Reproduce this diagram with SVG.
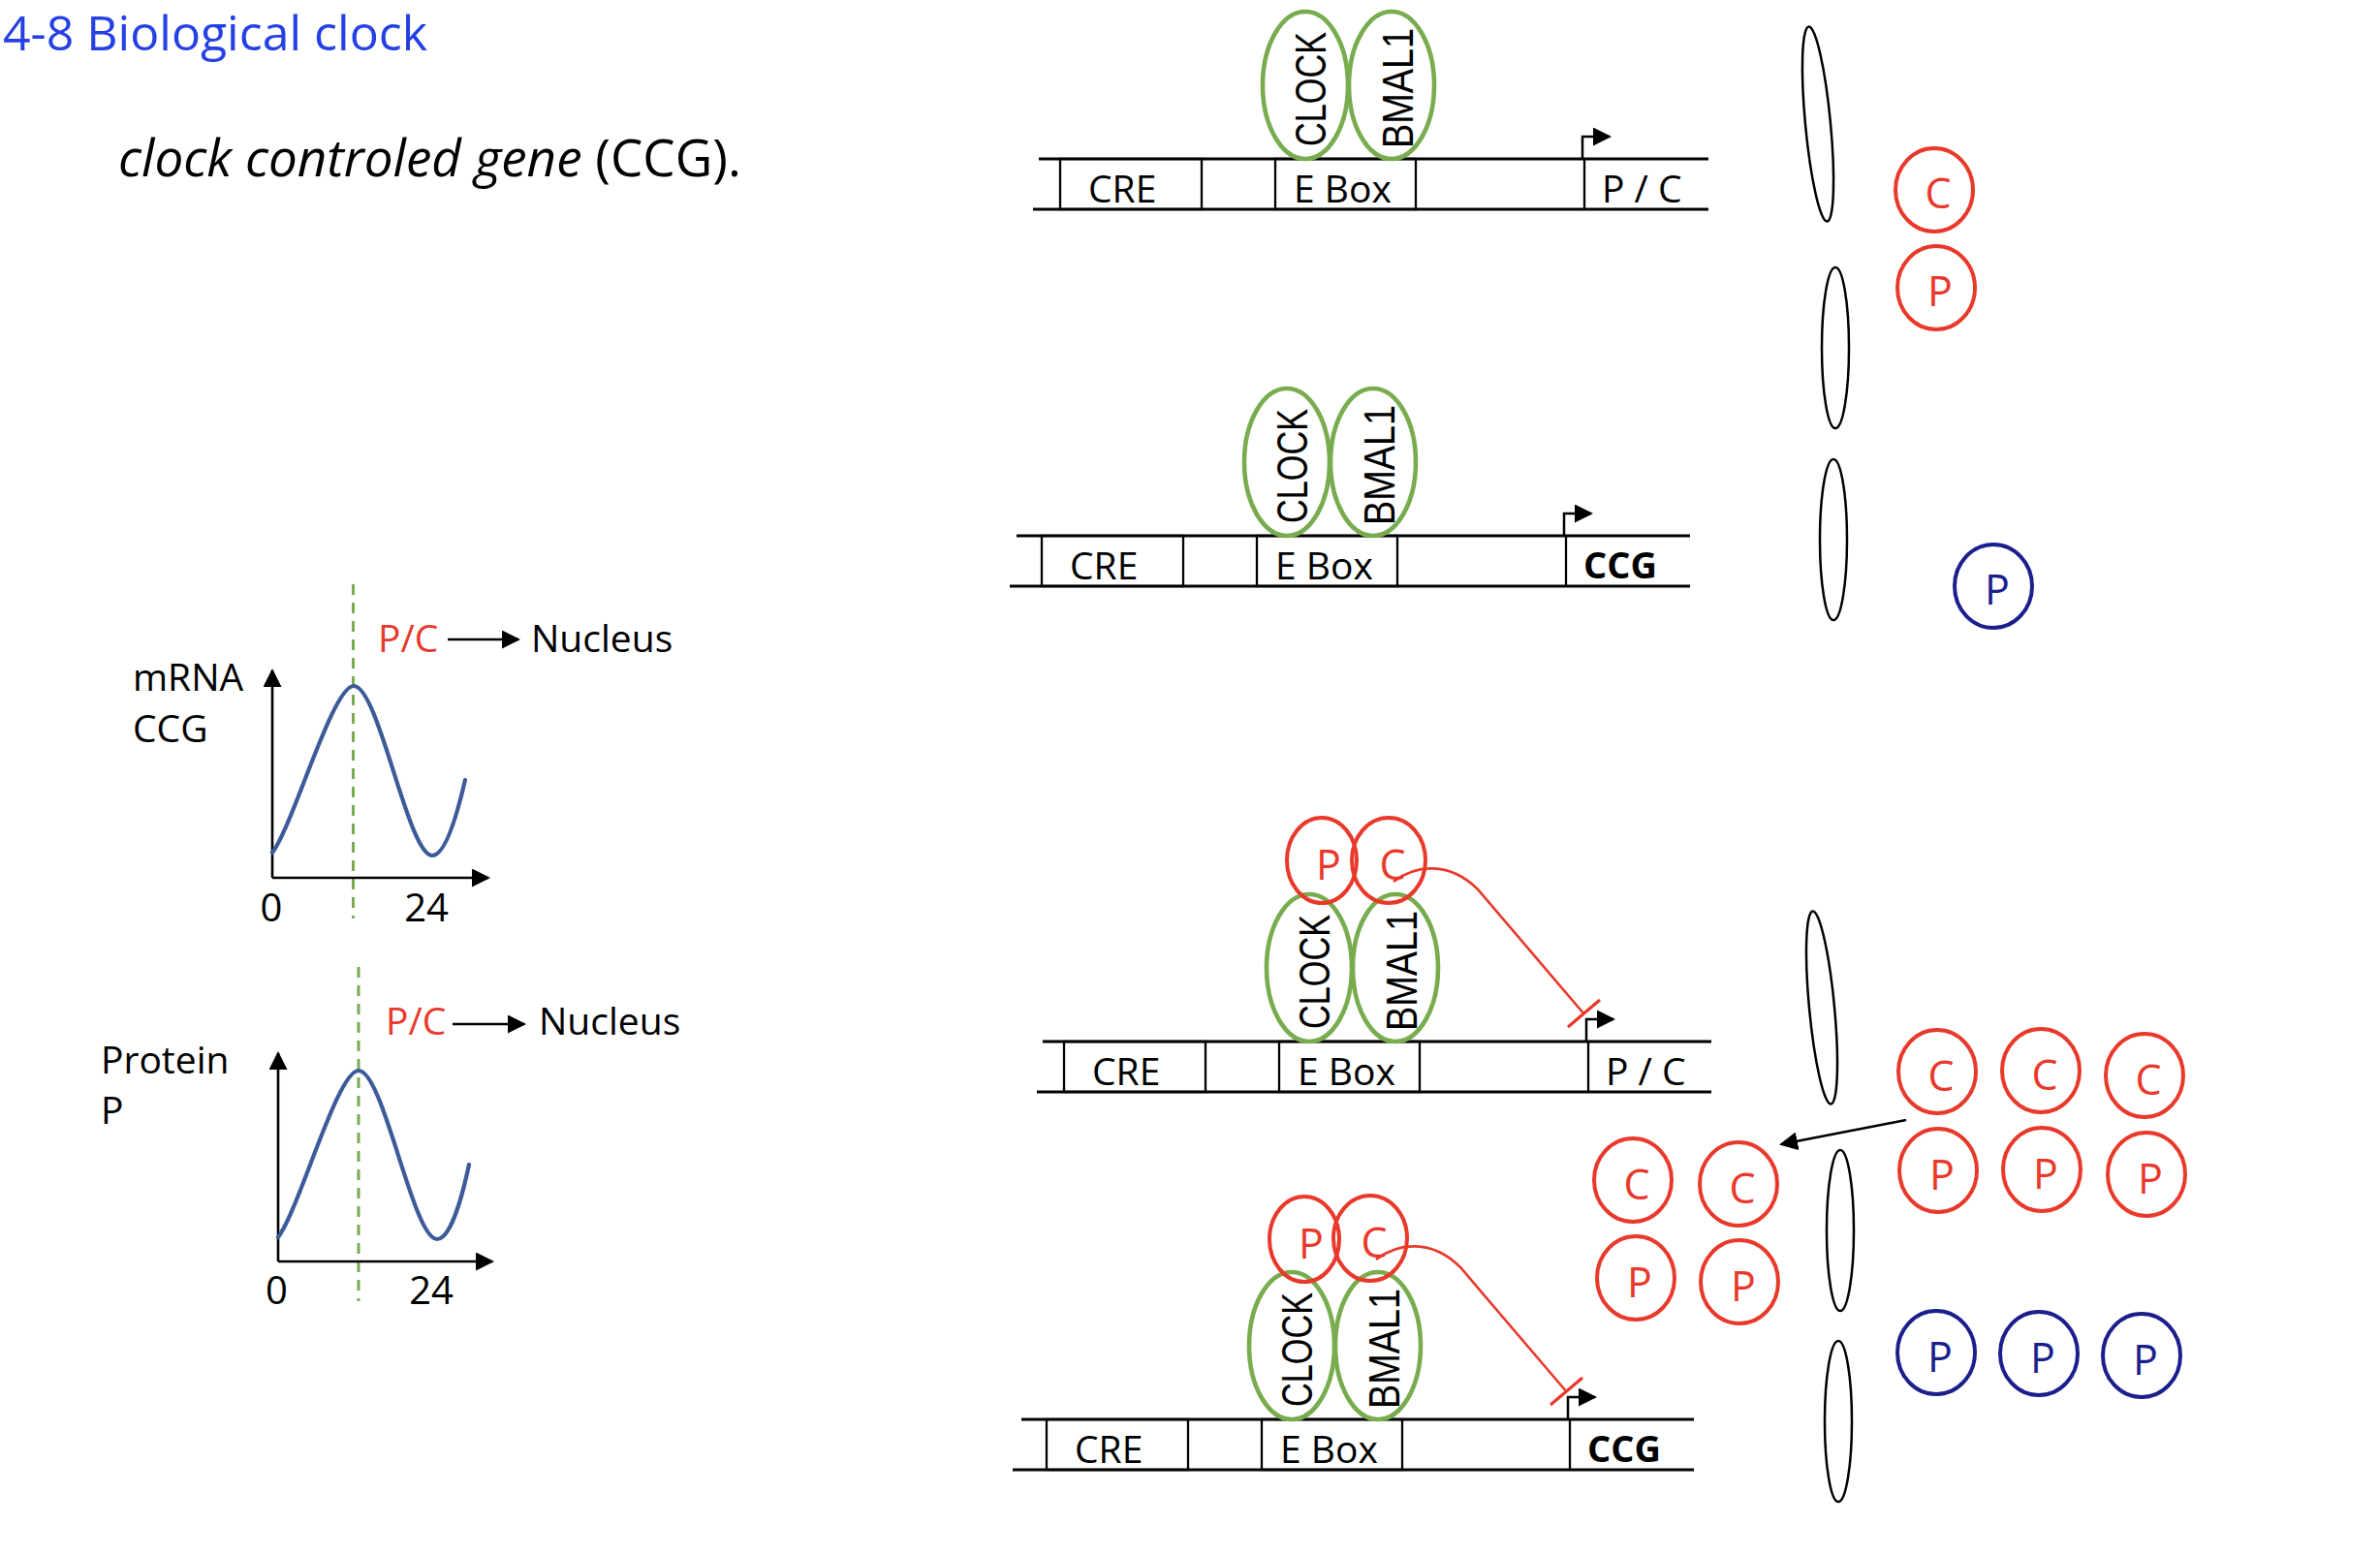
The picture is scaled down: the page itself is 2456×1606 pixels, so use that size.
<svg xmlns="http://www.w3.org/2000/svg" width="2456" height="1606" viewBox="0 0 2456 1606">
<defs>
<style>
.title{font-family:"Open Sans","Liberation Sans",sans-serif;font-size:50px;fill:#2541E3;}
.sub{font-family:"Open Sans","Liberation Sans",sans-serif;font-size:53px;fill:#000;}
.lbl{font-family:"Open Sans","Liberation Sans",sans-serif;font-size:39px;fill:#000;}
.lblr{font-family:"Open Sans","Liberation Sans",sans-serif;font-size:39px;fill:#E8392B;}
.num{font-family:"Open Sans","Liberation Sans",sans-serif;font-size:40px;fill:#000;text-anchor:middle;}
.ax{stroke:#000;stroke-width:2.6;fill:none;}
.dash{stroke:#78AC4F;stroke-width:3;stroke-dasharray:11 8;fill:none;}
.wave{stroke:#3D5A99;stroke-width:4.2;fill:none;stroke-linecap:round;}
.dna{stroke:#000;stroke-width:2.8;fill:none;}
.box{stroke:#000;stroke-width:2.3;fill:none;}
.gt{font-family:"Open Sans","Liberation Sans",sans-serif;font-size:39px;fill:#000;}
.gtb{font-family:"Open Sans","Liberation Sans",sans-serif;font-size:38px;font-weight:bold;fill:#000;}
.prom{stroke:#000;stroke-width:2.5;fill:none;}
.tf{stroke:#78AC4F;stroke-width:4.6;fill:none;}
.tft{font-family:"Liberation Sans",Arial,sans-serif;font-size:45px;fill:#000;}
.rc{stroke:#E8392B;stroke-width:4;fill:none;}
.bc{stroke:#1B1F8C;stroke-width:4;fill:none;}
.rt{font-family:"Open Sans","Liberation Sans",sans-serif;font-size:43px;fill:#E8392B;text-anchor:middle;}
.bt{font-family:"Open Sans","Liberation Sans",sans-serif;font-size:43px;fill:#1B1F8C;text-anchor:middle;}
.mem{stroke:#000;stroke-width:2.5;fill:none;}
.rep{stroke:#E8392B;stroke-width:2.6;fill:none;}
.bar{stroke:#E8392B;stroke-width:3.2;fill:none;}
</style>
<marker id="ah" viewBox="0 0 19 19" refX="17" refY="9.5" markerWidth="19" markerHeight="19" markerUnits="userSpaceOnUse" orient="auto">
<path d="M0,0 L19,9.5 L0,19 Z" fill="#000"/>
</marker>
</defs>

<rect x="0" y="0" width="2456" height="1606" fill="#fff"/>

<g id="title">
<text class="title" x="3" y="52">4-8 Biological clock</text>
</g>
<g id="subtitle">
<text class="sub" x="122" y="182"><tspan font-style="italic">clock controled gene</tspan> (CCG).</text>
</g>

<g id="graph-mrna">
<text class="lbl" x="137" y="713">mRNA</text>
<text class="lbl" x="137" y="766">CCG</text>
<g transform="translate(281,906)">
<line class="dash" x1="83.5" y1="-303" x2="83.5" y2="42"/>
<line class="ax" x1="0" y1="0" x2="0" y2="-214" marker-end="url(#ah)"/>
<line class="ax" x1="0" y1="0" x2="223" y2="0" marker-end="url(#ah)"/>
<path class="wave" d="M0,-26 C22,-55 62,-198 84,-198 C110,-198 140,-23 165,-23 C178,-23 190,-62 199,-101"/>
<text class="num" x="-1" y="45">0</text>
<text class="num" x="159" y="45">24</text>
<text class="lblr" x="109" y="-233">P/C</text>
<line class="ax" x1="181" y1="-246" x2="254" y2="-246" marker-end="url(#ah)"/>
<text class="lbl" x="267" y="-233">Nucleus</text>
</g>
</g>

<g id="graph-protein">
<text class="lbl" x="104" y="1108">Protein</text>
<text class="lbl" x="104" y="1160">P</text>
<g transform="translate(287,1302)">
<line class="dash" x1="83" y1="-304" x2="83" y2="41"/>
<line class="ax" x1="0" y1="0" x2="0" y2="-215" marker-end="url(#ah)"/>
<line class="ax" x1="0" y1="0" x2="221" y2="0" marker-end="url(#ah)"/>
<path class="wave" d="M0,-25 C22,-54 61,-197 83,-197 C109,-197 139,-23 164,-23 C177,-23 189,-62 197,-100"/>
<text class="num" x="-1.5" y="44">0</text>
<text class="num" x="158" y="44">24</text>
<text class="lblr" x="111" y="-234">P/C</text>
<line class="ax" x1="180" y1="-245" x2="254" y2="-245" marker-end="url(#ah)"/>
<text class="lbl" x="269" y="-234">Nucleus</text>
</g>
</g>

<g id="gene-1" transform="translate(1316,164)">
<line class="dna" x1="-244" y1="0" x2="447" y2="0"/>
<line class="dna" x1="-250" y1="52" x2="447" y2="52"/>
<rect class="box" x="-222" y="0" width="146" height="52"/>
<rect class="box" x="0" y="0" width="145" height="52"/>
<line class="box" x1="319" y1="0" x2="319" y2="52"/>
<text class="gt" x="-193" y="45">CRE</text>
<text class="gt" x="19" y="45">E Box</text>
<text class="gt" x="337" y="45">P / C</text>
<path class="prom" d="M317,0 V-23 H345" marker-end="url(#ah)"/>
<ellipse class="tf" cx="31" cy="-76" rx="44" ry="76"/>
<ellipse class="tf" cx="120" cy="-76" rx="44" ry="76"/>
<text class="tft" transform="translate(52,-72) rotate(-90)" x="-59" textLength="118" lengthAdjust="spacingAndGlyphs">CLOCK</text>
<text class="tft" transform="translate(142,-73) rotate(-90)" x="-62" textLength="124" lengthAdjust="spacingAndGlyphs">BMAL1</text>
</g>

<g id="gene-2" transform="translate(1297,553)">
<line class="dna" x1="-248" y1="0" x2="447" y2="0"/>
<line class="dna" x1="-255" y1="52" x2="447" y2="52"/>
<rect class="box" x="-222" y="0" width="146" height="52"/>
<rect class="box" x="0" y="0" width="145" height="52"/>
<line class="box" x1="319" y1="0" x2="319" y2="52"/>
<text class="gt" x="-193" y="45">CRE</text>
<text class="gt" x="19" y="45">E Box</text>
<text class="gtb" x="337" y="44">CCG</text>
<path class="prom" d="M317,0 V-23 H345" marker-end="url(#ah)"/>
<ellipse class="tf" cx="31" cy="-76" rx="44" ry="76"/>
<ellipse class="tf" cx="120" cy="-76" rx="44" ry="76"/>
<text class="tft" transform="translate(52,-72) rotate(-90)" x="-59" textLength="118" lengthAdjust="spacingAndGlyphs">CLOCK</text>
<text class="tft" transform="translate(142,-73) rotate(-90)" x="-62" textLength="124" lengthAdjust="spacingAndGlyphs">BMAL1</text>
</g>

<g id="gene-3" transform="translate(1320,1075)">
<line class="dna" x1="-244" y1="0" x2="446" y2="0"/>
<line class="dna" x1="-250" y1="52" x2="446" y2="52"/>
<rect class="box" x="-222" y="0" width="146" height="52"/>
<rect class="box" x="0" y="0" width="145" height="52"/>
<line class="box" x1="319" y1="0" x2="319" y2="52"/>
<text class="gt" x="-193" y="45">CRE</text>
<text class="gt" x="19" y="45">E Box</text>
<text class="gt" x="337" y="45">P / C</text>
<path class="prom" d="M317,0 V-23 H345" marker-end="url(#ah)"/>
<ellipse class="tf" cx="31" cy="-76" rx="44" ry="76"/>
<ellipse class="tf" cx="120" cy="-76" rx="44" ry="76"/>
<text class="tft" transform="translate(52,-72) rotate(-90)" x="-59" textLength="118" lengthAdjust="spacingAndGlyphs">CLOCK</text>
<text class="tft" transform="translate(142,-73) rotate(-90)" x="-62" textLength="124" lengthAdjust="spacingAndGlyphs">BMAL1</text>
<ellipse class="rc" cx="44" cy="-187" rx="36" ry="44"/>
<ellipse class="rc" cx="113" cy="-187" rx="38" ry="44"/>
<text class="rt" x="51" y="-167">P</text>
<text class="rt" x="117" y="-167">C</text>
</g>

<g id="gene-4" transform="translate(1302,1465)">
<line class="dna" x1="-248" y1="0" x2="446" y2="0"/>
<line class="dna" x1="-257" y1="52" x2="446" y2="52"/>
<rect class="box" x="-222" y="0" width="146" height="52"/>
<rect class="box" x="0" y="0" width="145" height="52"/>
<line class="box" x1="318" y1="0" x2="318" y2="52"/>
<text class="gt" x="-193" y="45">CRE</text>
<text class="gt" x="19" y="45">E Box</text>
<text class="gtb" x="336" y="44">CCG</text>
<path class="prom" d="M316,0 V-23 H344" marker-end="url(#ah)"/>
<ellipse class="tf" cx="31" cy="-76" rx="44" ry="76"/>
<ellipse class="tf" cx="120" cy="-76" rx="44" ry="76"/>
<text class="tft" transform="translate(52,-72) rotate(-90)" x="-59" textLength="118" lengthAdjust="spacingAndGlyphs">CLOCK</text>
<text class="tft" transform="translate(142,-73) rotate(-90)" x="-62" textLength="124" lengthAdjust="spacingAndGlyphs">BMAL1</text>
<ellipse class="rc" cx="44" cy="-186" rx="36" ry="44"/>
<ellipse class="rc" cx="112" cy="-187" rx="38" ry="44"/>
<text class="rt" x="51" y="-166">P</text>
<text class="rt" x="116" y="-167">C</text>
</g>

<g id="membranes">
<ellipse class="mem" cx="1876" cy="128" rx="13" ry="101" transform="rotate(-5.4 1876 128)"/>
<ellipse class="mem" cx="1894" cy="359" rx="14" ry="83"/>
<ellipse class="mem" cx="1892" cy="557" rx="14" ry="83"/>
<ellipse class="mem" cx="1880" cy="1040" rx="13" ry="100" transform="rotate(-5.4 1880 1040)"/>
<ellipse class="mem" cx="1899" cy="1270" rx="14" ry="83"/>
<ellipse class="mem" cx="1897" cy="1467" rx="14" ry="83"/>
</g>

<g id="cyto-top">
<ellipse class="rc" cx="1996" cy="196" rx="40" ry="43"/>
<text class="rt" x="2000" y="215">C</text>
<ellipse class="rc" cx="1998" cy="297" rx="40" ry="43"/>
<text class="rt" x="2002" y="316">P</text>
<ellipse class="bc" cx="2057" cy="605" rx="40" ry="43"/>
<text class="bt" x="2061" y="624">P</text>
</g>

<g id="cyto-bottom">
<ellipse class="rc" cx="1999" cy="1106" rx="40" ry="43"/>
<text class="rt" x="2003" y="1126">C</text>
<ellipse class="rc" cx="2106" cy="1105" rx="40" ry="43"/>
<text class="rt" x="2110" y="1125">C</text>
<ellipse class="rc" cx="2213" cy="1110" rx="40" ry="43"/>
<text class="rt" x="2217" y="1130">C</text>
<ellipse class="rc" cx="2000" cy="1208" rx="40" ry="43"/>
<text class="rt" x="2004" y="1228">P</text>
<ellipse class="rc" cx="2107" cy="1207" rx="40" ry="43"/>
<text class="rt" x="2111" y="1227">P</text>
<ellipse class="rc" cx="2215" cy="1212" rx="40" ry="43"/>
<text class="rt" x="2219" y="1232">P</text>
<ellipse class="bc" cx="1998" cy="1396" rx="40" ry="43"/>
<text class="bt" x="2002" y="1416">P</text>
<ellipse class="bc" cx="2104" cy="1397" rx="40" ry="43"/>
<text class="bt" x="2108" y="1417">P</text>
<ellipse class="bc" cx="2210" cy="1399" rx="40" ry="43"/>
<text class="bt" x="2214" y="1419">P</text>
</g>

<g id="nuclear-pc">
<ellipse class="rc" cx="1685" cy="1218" rx="40" ry="43"/>
<text class="rt" x="1689" y="1238">C</text>
<ellipse class="rc" cx="1794" cy="1222" rx="40" ry="43"/>
<text class="rt" x="1798" y="1242">C</text>
<ellipse class="rc" cx="1688" cy="1319" rx="40" ry="43"/>
<text class="rt" x="1692" y="1339">P</text>
<ellipse class="rc" cx="1795" cy="1323" rx="40" ry="43"/>
<text class="rt" x="1799" y="1343">P</text>
</g>

<g id="connectors">
<path class="rep" d="M1438,910 C1460,893 1495,888 1525,918 L1635,1047"/>
<line class="bar" x1="1618" y1="1060" x2="1651" y2="1032"/>
<path class="rep" d="M1420,1300 C1442,1283 1477,1278 1507,1308 L1617,1437"/>
<line class="bar" x1="1600" y1="1450" x2="1633" y2="1422"/>
<line class="ax" x1="1967" y1="1156" x2="1838" y2="1181" marker-end="url(#ah)"/>
</g>
</svg>
